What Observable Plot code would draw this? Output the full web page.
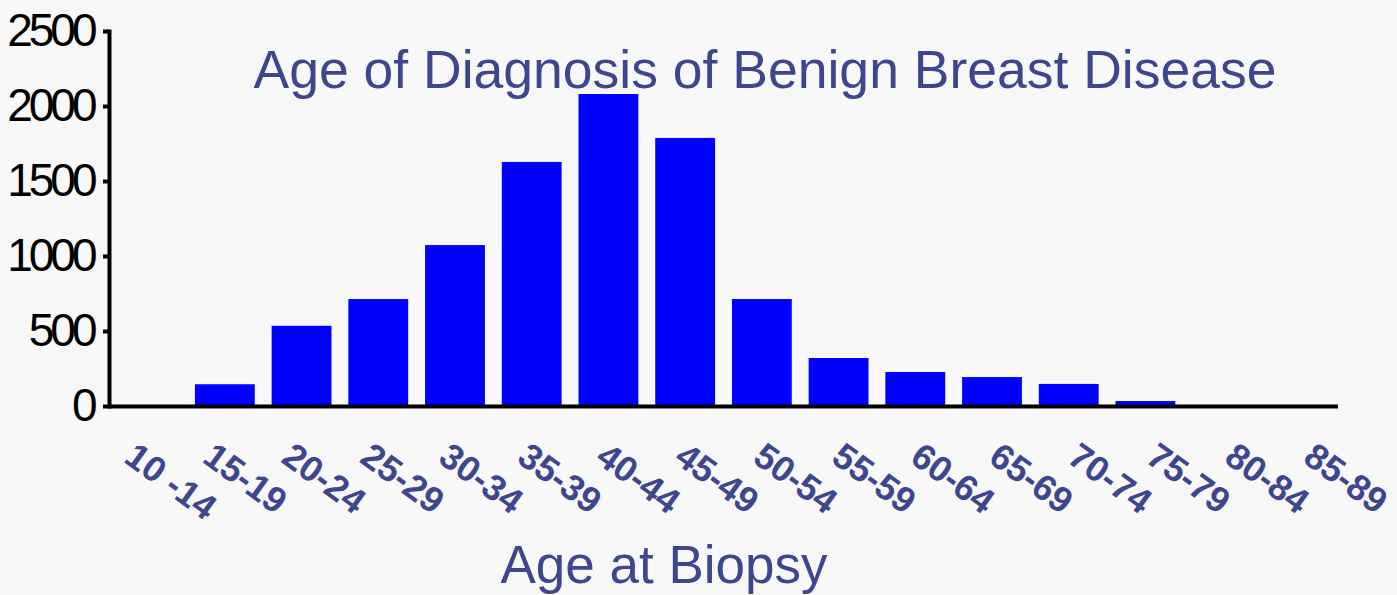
<!DOCTYPE html>
<html>
<head>
<meta charset="utf-8">
<script src="https://cdn.jsdelivr.net/npm/d3@7"></script>
<script src="https://cdn.jsdelivr.net/npm/@observablehq/plot@0.6"></script>
<style>
  html, body { margin: 0; padding: 0; background: #f8f8f8; }
  #wrap { position: relative; width: 1397px; height: 595px; }
  #wrap > svg { position: absolute; left: 0; top: 0; }
  g[aria-label="y-axis tick label"] text { letter-spacing: -4px; }
</style>
</head>
<body>
<div id="wrap"></div>
<script>
const categories = ["10 -14","15-19","20-24","25-29","30-34","35-39","40-44","45-49","50-54","55-59","60-64","65-69","70-74","75-79","80-84","85-89"];
const counts = [0,145,535,713,1073,1627,2080,1787,713,320,227,193,147,33,0,0];
const yTicks = [0,500,1000,1500,2000,2500];
const title = "Age of Diagnosis of Benign Breast Disease";
const xTitle = "Age at Biopsy";

const textColor = "#3d468e";
const data = categories.map((c, i) => ({cat: c, count: counts[i]}));

const common = {
  width: 1397,
  height: 595,
  marginTop: 31,
  marginBottom: 189,
  marginLeft: 109,
  marginRight: 59
};

const chart = Plot.plot({
  ...common,
  style: {background: "#f8f8f8", fontFamily: "Arial, 'Liberation Sans', sans-serif"},
  x: {domain: categories, paddingInner: 0.22, paddingOuter: 0.12, round: false, axis: null},
  y: {domain: [0, 2500], axis: null},
  marks: [
    Plot.barY(data, {x: "cat", y: "count", fill: "#0000ff"}),
    Plot.axisY({ticks: yTicks, label: null, tickSize: 6, tickPadding: 10, strokeWidth: 4, fontSize: 46, fill: "#000", stroke: "#000", tickFormat: d => String(d)}),
    Plot.frame({anchor: "left", strokeWidth: 4, stroke: "#000"}),
    Plot.ruleY([0], {strokeWidth: 4, stroke: "#000"}),
    Plot.text([title], {frameAnchor: "top", lineAnchor: "bottom", textAnchor: "middle", dx: 41, dy: 56, fontSize: 53.5, fill: textColor}),
    Plot.text([xTitle], {frameAnchor: "bottom", lineAnchor: "bottom", textAnchor: "middle", dx: -60, dy: 176, fontSize: 53, fill: textColor})
  ]
});

// Category labels: in the reference they are spread slightly wider than the bars
const labels = Plot.plot({
  ...common,
  style: {background: "transparent", fontFamily: "Arial, 'Liberation Sans', sans-serif"},
  x: {type: "point", domain: categories, range: [137, 1316], padding: 0, round: false, axis: null},
  marks: [
    Plot.text(categories, {x: d => d, frameAnchor: "bottom", lineAnchor: "top", textAnchor: "start", rotate: 36, dy: 34, fontSize: 36, fontWeight: "bold", fill: textColor})
  ]
});

const wrap = document.getElementById("wrap");
wrap.appendChild(chart);
wrap.appendChild(labels);
</script>
</body>
</html>
